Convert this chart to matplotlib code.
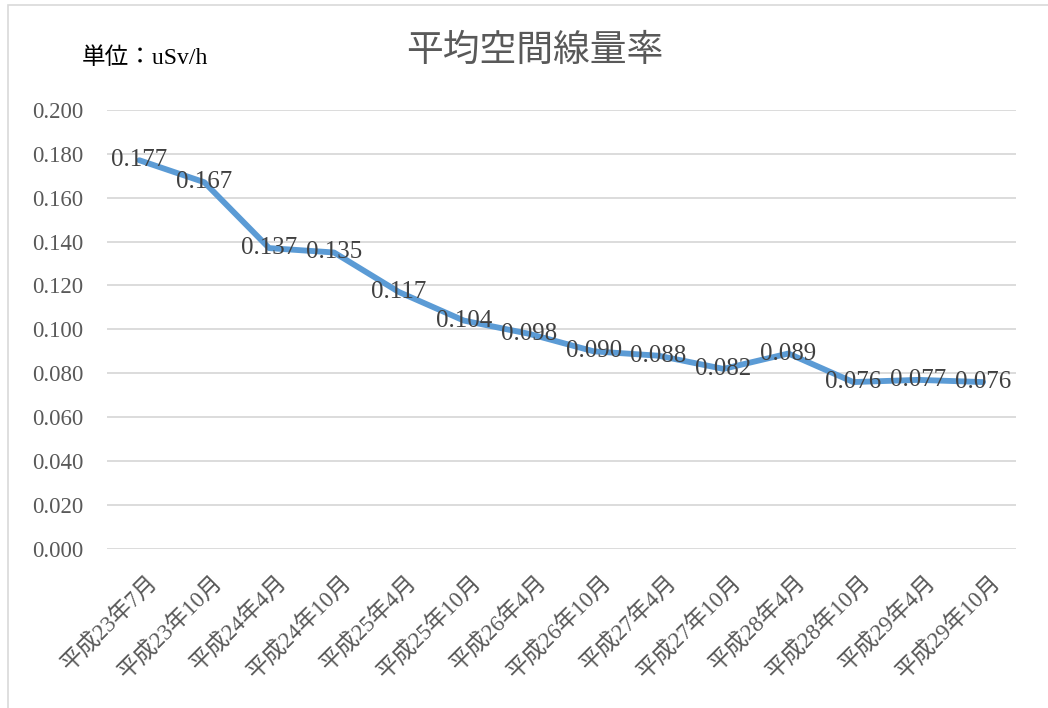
# 平均空間線量率 line chart
import matplotlib
matplotlib.use("Agg")
import matplotlib.pyplot as plt
from matplotlib.patches import Rectangle
from matplotlib.transforms import ScaledTranslation

plt.rcParams['font.family'] = ['Liberation Serif', 'Noto Sans CJK JP', 'DejaVu Sans']

# data
categories = ['平成23年7月', '平成23年10月', '平成24年4月', '平成24年10月',
              '平成25年4月', '平成25年10月', '平成26年4月', '平成26年10月',
              '平成27年4月', '平成27年10月', '平成28年4月', '平成28年10月',
              '平成29年4月', '平成29年10月']
values = [0.177, 0.167, 0.137, 0.135, 0.117, 0.104, 0.098,
          0.090, 0.088, 0.082, 0.089, 0.076, 0.077, 0.076]
y_ticks = [0.000, 0.020, 0.040, 0.060, 0.080, 0.100,
           0.120, 0.140, 0.160, 0.180, 0.200]

fig = plt.figure(figsize=(10.48, 7.08), dpi=100)
ax = fig.add_axes([0.102, 0.2246, 0.867, 0.6204])

# chart border
fig.patches.append(Rectangle((8 / 1048, -0.1), 1.2, 1 - 5 / 708 + 0.1,
                             transform=fig.transFigure, fill=False,
                             edgecolor='#D9D9D9', lw=1.2))

x = list(range(len(categories)))
ax.plot(x, values, color='#5B9BD5', lw=4.2, solid_capstyle='round', zorder=3)

for xi, v in zip(x, values):
    ax.text(xi, v, f'{v:.3f}', ha='center', va='center', fontsize=18,
            color='#404040', zorder=4)

ax.set_xlim(-0.5, len(categories) - 0.5)
ax.set_ylim(0, 0.2)
ax.set_yticks(y_ticks)
ax.set_yticklabels([f'{t:.3f}' for t in y_ticks], fontsize=16.5, color='#595959')
ax.set_xticks(x)
ax.set_xticklabels(categories, rotation=45, ha='right', rotation_mode='anchor',
                   va='center', fontsize=16.5, color='#595959')
ax.tick_params(length=0, axis='y', pad=17)
ax.tick_params(length=0, axis='x', pad=22)
shift = ScaledTranslation(15 / 100, 0, fig.dpi_scale_trans)
for t in ax.get_xticklabels():
    t.set_transform(t.get_transform() + shift)

ax.grid(axis='y', color='#D9D9D9', lw=1.3)
ax.set_axisbelow(True)
for s in ax.spines.values():
    s.set_visible(False)

fig.text(0.51, 1 - 52 / 708, '平均空間線量率', ha='center', va='center',
         fontsize=26.5, color='#595959')
fig.text(82 / 1048, 1 - 58 / 708, '単位：uSv/h', ha='left', va='center',
         fontsize=17, color='black')

fig.savefig('out.png', dpi=100)
